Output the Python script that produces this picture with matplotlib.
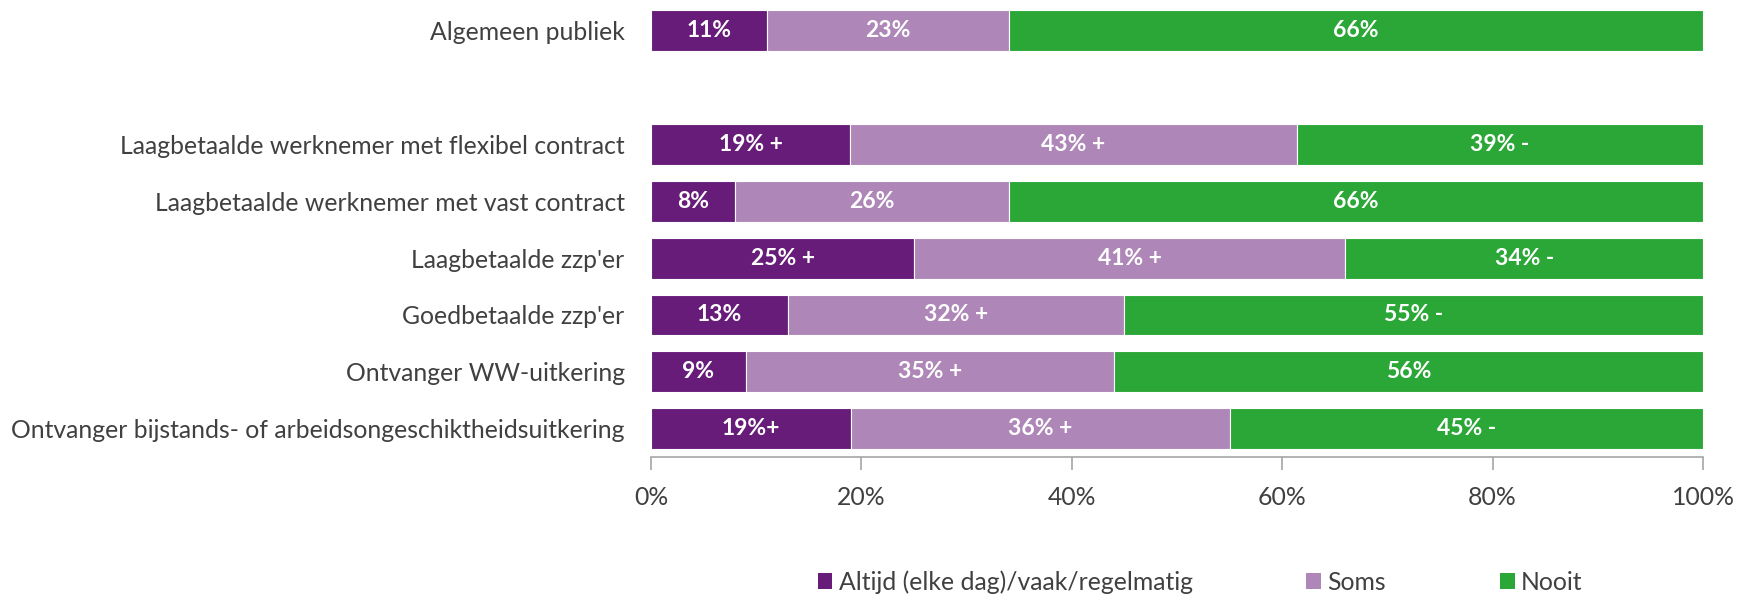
import numpy as np
import matplotlib
matplotlib.use("Agg")
import matplotlib.pyplot as plt
from matplotlib.patches import Patch

plt.rcParams['font.family'] = ['Lato', 'DejaVu Sans']

categories = ["Algemeen publiek",
              "Laagbetaalde werknemer met flexibel contract",
              "Laagbetaalde werknemer met vast contract",
              "Laagbetaalde zzp'er",
              "Goedbetaalde zzp'er",
              "Ontvanger WW-uitkering",
              "Ontvanger bijstands- of arbeidsongeschiktheidsuitkering"]
ypos = [0, 2, 3, 4, 5, 6, 7]

altijd = [11, 18.9, 8, 25, 13, 9, 19]
soms = [23, 42.5, 26, 41, 32, 35, 36]
nooit = [66, 38.6, 66, 34, 55, 56, 45]

altijd_lbl = ["11%", "19% +", "8%", "25% +", "13%", "9%", "19%+"]
soms_lbl = ["23%", "43% +", "26%", "41% +", "32% +", "35% +", "36% +"]
nooit_lbl = ["66%", "39% -", "66%", "34% -", "55% -", "56%", "45% -"]

series = ["Altijd (elke dag)/vaak/regelmatig", "Soms", "Nooit"]
colors = ["#661c78", "#ae87b8", "#2ba737"]

fig = plt.figure(figsize=(17.39, 5.98), dpi=100)
ax = fig.add_axes([0.3744, 0.2358, 0.6049, 0.7600])

left = np.zeros(len(ypos))
for vals, lbls, col in zip([altijd, soms, nooit], [altijd_lbl, soms_lbl, nooit_lbl], colors):
    bars = ax.barh(ypos, vals, left=left, height=0.72, color=col,
                   edgecolor="white", linewidth=0.8)
    ax.bar_label(bars, labels=lbls, label_type="center", color="white",
                 fontsize=16.5, fontweight="bold")
    left += np.array(vals)

for s in ["top", "right", "left"]:
    ax.spines[s].set_visible(False)
ax.spines["bottom"].set_color("#a6a6a6")
ax.spines["bottom"].set_linewidth(1.2)

ax.set_xlim(0, 100)
ax.set_ylim(7.5, -0.5)
ax.set_yticks(ypos)
ax.set_yticklabels(categories)
ax.set_xticks(np.arange(0, 101, 20))
ax.set_xticklabels([f"{v}%" for v in range(0, 101, 20)])
ax.tick_params(axis="y", length=0, pad=19, labelsize=17.8, labelcolor="#404040")
ax.tick_params(axis="x", length=9, width=1.2, color="#a6a6a6", direction="out", pad=12,
               labelsize=17.8, labelcolor="#404040")

handles = [Patch(facecolor=c) for c in colors]
fig.legend(handles, series, loc="center", bbox_to_anchor=(0.690, 0.027), ncol=3,
           frameon=False, fontsize=17.8, handlelength=0.6, handleheight=0.6,
           handletextpad=0.25, columnspacing=4.6, labelcolor="#404040")

fig.savefig("out.png", dpi=100)
